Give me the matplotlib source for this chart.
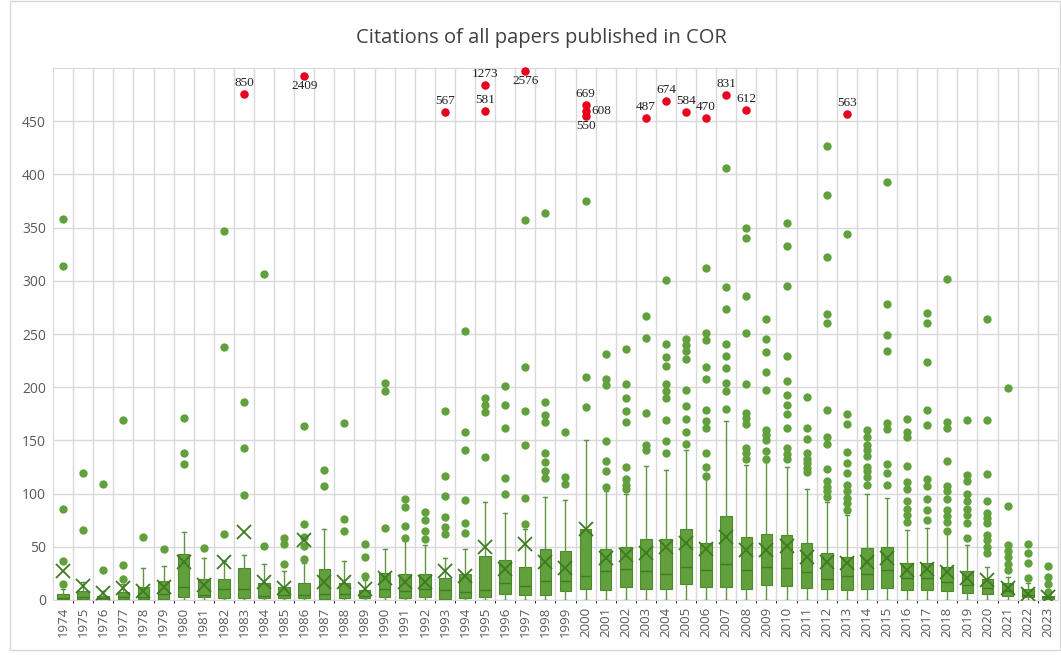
import matplotlib
matplotlib.use("Agg")
import matplotlib.pyplot as plt
from matplotlib.patches import Rectangle

years = list(range(1974, 2024))

# box stats (citations)
q1 = [0.5, 0.5, 0.5, 0.5, 0.5, 1, 3, 3, 1.5, 1.5,
      1.5, 1.5, 1.5, 1, 1.5, 1.5, 2.5, 1.5, 2.5, 1,
      1.5, 3, 5.5, 4.5, 4.5, 8, 10, 9, 12.5, 10.5,
      10.5, 15, 12.5, 12.5, 10, 14, 13, 11.5, 10, 9.4,
      10.7, 11.6, 9.4, 9.4, 8.8, 7, 5.6, 3.8, 2.5, 1.2]
med = [1.5, 3, 2, 3, 2.5, 5.5, 12, 5, 10.5, 10,
       4, 5, 5, 6, 6, 4, 10, 8, 10.5, 9.5,
       7.5, 9.5, 16, 13, 18, 18, 22.5, 27, 29, 27,
       24.5, 31, 28, 34, 28, 31, 30, 26, 20, 23,
       24.5, 28, 21, 21, 17, 14, 11, 8.8, 4.7, 2.5]
q3 = [5.6, 8.5, 4, 7.5, 12, 18, 43, 19.5, 19.5, 30,
      16, 12, 16, 29, 16, 9.4, 25, 24, 24, 21,
      24.5, 41, 38, 31, 48, 46, 67, 48, 50, 57,
      57, 67, 54, 79, 59, 62, 61, 54, 44.5, 40,
      48.6, 49.5, 35, 35, 31, 27, 20, 15.7, 10.7, 3.8]
whisker_hi = [10, 17, 8, 15, 30, 32, 64, 39, 37, 42,
              34, 27, 35, 67, 37, 19, 48, 56, 52, 39,
              48, 92, 82, 67, 96.5, 94, 150, 102, 100, 126,
              122, 141, 114, 168, 127, 130, 125, 104, 92.5, 80,
              100, 96, 66, 68, 64, 52, 31, 22, 15.7, 6]
means = [27, 13, 7, 11, 8, 12, 36, 14, 36, 64,
         17, 11.5, 56, 17, 17, 10, 21, 17, 17, 27,
         23, 50, 29, 53, 36, 30, 67, 39, 42, 44.5,
         50, 54, 48, 59, 47, 47, 51, 40, 36, 34.5,
         36, 39.5, 28, 29, 26, 21, 19, 11, 6, 2.5]
outliers = [
    [15, 37, 86, 314, 358], [66, 119], [28, 109], [20, 33, 169], [59], [48],
    [128, 138, 171], [49], [62, 238, 347], [99, 143, 186], [51, 306],
    [34, 53, 58], [38.5, 51, 59, 71, 164], [107, 122], [65, 76, 166],
    [23, 40, 53], [68, 196, 204], [58, 70, 87, 95], [57, 65, 75, 83],
    [62, 69, 78, 98, 117, 178], [63, 72, 94, 141, 158, 253],
    [134, 177, 183, 190], [100, 115, 162, 183, 201],
    [71.5, 96, 146, 178, 219, 357], [115, 121, 130, 138.5, 167, 174, 186, 364],
    [109, 116, 158], [181, 210, 375],
    [106, 121.5, 131, 149, 202, 208, 231],
    [104, 108, 114, 125, 167, 178, 190, 203, 236],
    [141, 146, 176, 246, 267],
    [138, 149, 169, 190, 196, 203, 220, 228, 241, 301],
    [147, 158, 170, 182, 197, 227, 234, 240, 245],
    [117, 125, 138, 162, 168, 179, 208, 219, 244, 251, 312],
    [180, 196, 204, 218, 229, 241, 274, 294, 406],
    [133, 138.5, 143, 165.5, 171, 176, 203, 251, 286, 340, 350],
    [133, 140, 150, 155, 160, 197, 214, 233, 245, 264],
    [133, 137, 143, 162, 175, 183, 193, 206, 229, 295, 333, 354],
    [120, 124.5, 129, 133, 138, 151, 162, 191],
    [97, 102, 106.5, 112, 123, 147, 153, 179, 260, 269, 322, 381, 427],
    [85, 91, 96, 102, 108, 119, 128.5, 139, 165, 175, 344],
    [108, 116, 121, 125, 135, 141, 146, 153.6, 160],
    [108, 119, 128, 161, 166, 234, 249, 278, 393],
    [73, 80, 86, 93, 104, 110.7, 125.7, 153, 158, 170],
    [75, 84.6, 95, 107, 114, 164.6, 178.7, 224, 260, 270],
    [65, 73, 79, 84.6, 95, 102, 107.5, 131, 162, 167, 302],
    [58, 72, 80, 86, 93, 100, 111.6, 117.6, 169],
    [44, 50, 56, 61, 72, 77, 81.5, 93, 118, 169, 264],
    [28, 33.5, 40, 46, 51.7, 88, 199],
    [20.7, 35, 44, 53],
    [7.8, 15, 22, 32],
]

# extreme papers drawn in red at the top, with their real citation counts
red_years = [1983, 1986, 1993, 1995, 1995, 1997, 2000, 2000, 2000, 2003, 2004, 2005, 2006, 2007, 2008, 2013]
red_y = [476, 493, 459, 484, 460, 497, 465, 460, 455, 453, 469, 459, 453, 475, 461, 457]
red_labels = ["850", "2409", "567", "1273", "581", "2576", "669", "608", "550",
              "487", "674", "584", "470", "831", "612", "563"]
red_side = ["top", "bottom", "top", "top", "top", "bottom", "top", "right", "bottom",
            "top", "top", "top", "top", "top", "top", "top"]

green = "#62a03d"
dark = "#4a8a2c"
grid_c = "#d9d9d9"
text_c = "#595959"

fig = plt.figure(figsize=(10.61, 6.55), dpi=100)
ax = fig.add_axes([0.05, 0.084, 0.947, 0.812])

stats = []
for i in range(len(years)):
    stats.append({"med": med[i], "q1": q1[i], "q3": q3[i], "whislo": 0,
                  "whishi": whisker_hi[i], "mean": means[i], "fliers": outliers[i]})

pos = list(range(len(years)))
ax.bxp(stats, positions=pos, widths=0.58, patch_artist=True, showmeans=True,
       boxprops=dict(facecolor=green, edgecolor=dark, linewidth=0.8),
       medianprops=dict(color="#3f7a24", linewidth=1.0),
       whiskerprops=dict(color="#5f9444", linewidth=1.0),
       capprops=dict(color="#5f9444", linewidth=1.0),
       capwidths=0.2,
       flierprops=dict(marker="o", markerfacecolor=green, markeredgecolor=green, markersize=5),
       meanprops=dict(marker="x", markeredgecolor="#3d7a20", markersize=10, markeredgewidth=1.3),
       zorder=3)

xi = [years.index(y) for y in red_years]
ax.scatter(xi, red_y, s=26, color="#e8001c", zorder=4, clip_on=False)
for x, y, lab, side in zip(xi, red_y, red_labels, red_side):
    if side == "top":
        off, ha, va = (0, 3.5), "center", "bottom"
    elif side == "bottom":
        off, ha, va = (0, -3), "center", "top"
    else:
        off, ha, va = (4, 0), "left", "center"
    ax.annotate(lab, (x, y), xytext=off, textcoords="offset points", ha=ha, va=va,
                fontsize=9.5, family="Liberation Serif", color="#222222", zorder=5,
                annotation_clip=False)

ax.set_xlim(-0.5, len(years) - 0.5)
ax.set_ylim(0, 500)
ax.set_yticks(range(0, 451, 50))
ax.set_xticks(pos)
ax.set_xticklabels([str(y) for y in years], rotation=90, family="Open Sans",
                   fontsize=9.5, color=text_c)
for t in ax.get_yticklabels():
    t.set_family("Open Sans")
    t.set_fontsize(10)
    t.set_color(text_c)
ax.tick_params(length=0, pad=5)

ax.set_xticks([p + 0.5 for p in pos[:-1]], minor=True)
ax.grid(axis="y", color=grid_c, linewidth=1.0, zorder=0)
ax.grid(axis="x", which="minor", color=grid_c, linewidth=1.0, zorder=0)
for s in ax.spines.values():
    s.set_color(grid_c)
ax.set_axisbelow(True)

fig.text(0.51, 0.942, "Citations of all papers published in COR", ha="center", va="center",
         fontsize=14.5, family="Open Sans", color="#404040")
fig.patches.append(Rectangle((0.0095, 0.008), 0.99, 0.99, transform=fig.transFigure,
                             fill=False, edgecolor=grid_c, linewidth=1))

fig.savefig("out.png", dpi=100)
